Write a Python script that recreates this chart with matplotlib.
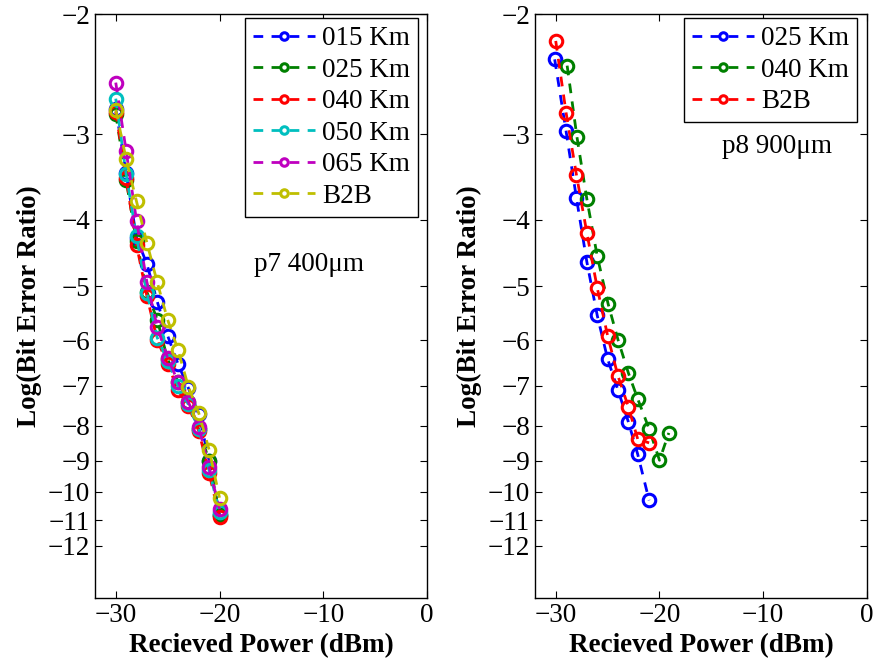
import numpy as np
import matplotlib
matplotlib.use("Agg")
import matplotlib.pyplot as plt

plt.rcParams["font.family"] = ["Liberation Serif", "DejaVu Serif"]
plt.rcParams["mathtext.fontset"] = "stix"

# left panel: p7 400um
P7_X = [-30, -29, -28, -27, -26, -25, -24, -23, -22, -21, -20]
P7_015 = [-2.75, -3.42, -4.25, -4.64, -5.27, -5.91, -6.5, -7.05, -7.7, -9.0, -10.8]
P7_025 = [-2.8, -3.5, -4.3, -5.1, -5.6, -6.4, -6.9, -7.4, -8.1, -9.0, -10.8]
P7_040 = [-2.78, -3.48, -4.35, -5.17, -6.0, -6.5, -7.1, -7.5, -8.15, -9.4, -10.9]
P7_050 = [-2.66, -3.43, -4.23, -5.11, -5.95, -6.44, -7.0, -7.45, -8.1, -9.3, -10.7]
P7_065 = [-2.52, -3.17, -4.01, -4.93, -5.74, -6.37, -6.9, -7.39, -8.04, -9.2, -10.6]
P7_B2B = [-2.76, -3.26, -3.76, -4.32, -4.94, -5.6, -6.2, -7.02, -7.67, -8.68, -10.2]

# right panel: p8 900um
P8_025_X = [-30.1, -29.0, -28.0, -27.0, -26.0, -25.0, -24.0, -23.0, -22.1, -21.0]
P8_025 = [-2.33, -2.97, -3.72, -4.61, -5.52, -6.39, -7.1, -7.9, -8.81, -10.29]
P8_040_X = [-28.9, -27.95, -27.0, -26.0, -24.95, -24.0, -23.0, -22.1, -21.0, -20.0, -19.1]
P8_040 = [-2.38, -3.03, -3.73, -4.52, -5.31, -5.99, -6.7, -7.31, -8.09, -8.99, -8.2]
P8_B2B_X = [-30.0, -29.0, -28.0, -27.0, -26.0, -25.0, -24.0, -23.0, -22.1, -21.0]
P8_B2B = [-2.19, -2.79, -3.44, -4.18, -5.03, -5.91, -6.77, -7.51, -8.37, -8.48]

Y_TICKS = [-2, -3, -4, -5, -6, -7, -8, -9, -10, -11, -12]

BLUE = (0, 0, 1)
GREEN = (0, 0.5, 0)
RED = (1, 0, 0)
CYAN = (0, 0.75, 0.75)
MAGENTA = (0.75, 0, 0.75)
YELLOW = (0.75, 0.75, 0)

FS = 19.5


def fwd(v):
    v = np.asarray(v, dtype=float)
    return -np.log10(np.clip(-v, 1e-6, None))


def inv(t):
    return -10.0 ** (-np.asarray(t, dtype=float))


def draw(ax, series, text, text_xy, legend_anchor):
    for x, y, color, label in series:
        ax.plot(x, y, linestyle=(0, (3.5, 3)), linewidth=2, color=color,
                marker="o", markersize=9, markeredgewidth=2.2,
                markerfacecolor="none", label=label)
    ax.set_yscale("function", functions=(fwd, inv))
    ax.set_xlim(-32, 0)
    ax.set_ylim(-14.3, -2)
    ax.set_xticks([-30, -20, -10, 0])
    ax.set_yticks(Y_TICKS)
    ax.set_yticklabels(["\u2212%d" % -t for t in Y_TICKS])
    ax.set_xticklabels(["\u221230", "\u221220", "\u221210", "0"])
    ax.tick_params(direction="in", top=True, right=True, labelsize=FS,
                   length=5, width=0.8)
    ax.minorticks_off()
    ax.set_xlabel("Recieved Power (dBm)", fontsize=FS, fontweight="bold")
    ax.set_ylabel("Log(Bit Error Ratio)", fontsize=FS, fontweight="bold")
    ax.text(text_xy[0], text_xy[1], text, transform=ax.transAxes,
            fontsize=FS, ha="left", va="center")
    leg = ax.legend(loc="upper right", bbox_to_anchor=legend_anchor,
                    fontsize=FS, fancybox=False, framealpha=1,
                    edgecolor="black", handlelength=2.3, handletextpad=0.25,
                    labelspacing=0.24, borderpad=0.3, markerscale=0.6,
                    borderaxespad=0)
    leg.get_frame().set_linewidth(1.0)
    for sp in ax.spines.values():
        sp.set_linewidth(1.0)


def main():
    fig = plt.figure(figsize=(8.74, 6.67), dpi=100)
    ax1 = fig.add_axes([0.1087, 0.1034, 0.3799, 0.8756])
    ax2 = fig.add_axes([0.6121, 0.1034, 0.3799, 0.8756])

    draw(ax1, [
        (P7_X, P7_015, BLUE, "015 Km"),
        (P7_X, P7_025, GREEN, "025 Km"),
        (P7_X, P7_040, RED, "040 Km"),
        (P7_X, P7_050, CYAN, "050 Km"),
        (P7_X, P7_065, MAGENTA, "065 Km"),
        (P7_X, P7_B2B, YELLOW, "B2B"),
    ], "p7 400\u03bcm", (0.48, 0.571), (0.973, 0.993))

    draw(ax2, [
        (P8_025_X, P8_025, BLUE, "025 Km"),
        (P8_040_X, P8_040, GREEN, "040 Km"),
        (P8_B2B_X, P8_B2B, RED, "B2B"),
    ], "p8 900\u03bcm", (0.563, 0.773), (0.970, 0.993))

    fig.savefig("out.png", dpi=100)


if __name__ == "__main__":
    main()
